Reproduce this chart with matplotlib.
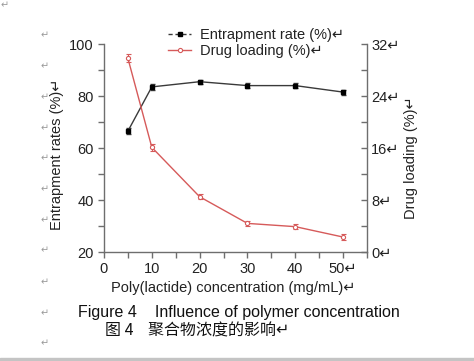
import matplotlib.pyplot as plt
from matplotlib.lines import Line2D
from matplotlib.patches import Rectangle
from matplotlib.ticker import MultipleLocator, FixedLocator, FixedFormatter

plt.rcParams['font.family'] = ['Liberation Sans', 'DejaVu Sans', 'Noto Sans CJK SC']

# data
conc = [5, 10, 20, 30, 40, 50]
entrap = [66.5, 83.5, 85.5, 84, 84, 81.5]
entrap_err = [1.3, 1.0, 0.8, 1.0, 1.0, 1.0]
loading = [29.8, 16.1, 8.5, 4.4, 3.9, 2.3]
loading_err = [0.6, 0.5, 0.4, 0.4, 0.4, 0.4]

x_ticks = [0, 10, 20, 30, 40, 50]
x_labels = ['0', '10', '20', '30', '40', '50\u21b5']
left_ticks = [20, 40, 60, 80, 100]
right_ticks = [0, 8, 16, 24, 32]
right_labels = ['0\u21b5', '8\u21b5', '16\u21b5', '24\u21b5', '32\u21b5']

axis_col = '#6e6e6e'
red = '#d65a5a'
dark = '#3a3a3a'
mark_col = '#9a9a9a'

fig = plt.figure(figsize=(4.74, 3.61), dpi=100)
ax = fig.add_axes([104 / 474, 1 - 252 / 361, 263 / 474, 208 / 361])
ax2 = ax.twinx()

ax.errorbar(conc, entrap, yerr=entrap_err, color=dark, lw=1.0,
            marker='s', ms=3, mfc='black', mec='black', capsize=1.8,
            elinewidth=0.8, zorder=3)
ax2.errorbar(conc, loading, yerr=loading_err, color=red, lw=1.0,
             marker='o', ms=3, mfc='white', mec=red, mew=0.8, capsize=1.8,
             elinewidth=0.8, zorder=3)

ax.set_xlim(0, 55)
ax.set_ylim(20, 100)
ax2.set_ylim(0, 32)

ax.xaxis.set_major_locator(FixedLocator(x_ticks))
ax.xaxis.set_major_formatter(FixedFormatter(x_labels))
ax.xaxis.set_minor_locator(MultipleLocator(5))
ax.yaxis.set_major_locator(FixedLocator(left_ticks))
ax.yaxis.set_minor_locator(MultipleLocator(10))
ax2.yaxis.set_major_locator(FixedLocator(right_ticks))
ax2.yaxis.set_major_formatter(FixedFormatter(right_labels))
ax2.yaxis.set_minor_locator(MultipleLocator(4))

for a in (ax, ax2):
    a.spines['top'].set_visible(False)
    for s in a.spines.values():
        s.set_color(axis_col)
        s.set_linewidth(1.0)
ax.spines['right'].set_visible(False)
ax2.spines['left'].set_visible(False)
ax2.spines['bottom'].set_visible(False)

ax.tick_params(axis='both', which='both', direction='out', color=axis_col,
               labelsize=10.5, length=4, width=1, labelcolor='#222222')
ax.tick_params(axis='x', pad=3)
ax2.tick_params(axis='y', which='both', direction='in', color=axis_col,
                labelsize=10.5, length=4, width=1, pad=3, labelcolor='#222222')

handles = [
    Line2D([], [], color=dark, lw=1.0, ls=(0, (3, 2)), marker='s', ms=3,
           mfc='black', mec='black'),
    Line2D([], [], color=red, lw=1.0, marker='o', ms=3, mfc='white',
           mec=red, mew=0.8),
]
labels = ['Entrapment rate (%)\u21b5', 'Drug loading (%)\u21b5']
fig.legend(handles, labels, loc='upper left', bbox_to_anchor=(162 / 474, 1 - 22 / 361),
           frameon=False, fontsize=10.5, handlelength=1.6, handletextpad=0.6,
           labelspacing=0.15, borderaxespad=0, labelcolor='#222222')

fig.text(57 / 474, 1 - 154 / 361, 'Entrapment rates (%)\u21b5', rotation=90,
         ha='center', va='center', fontsize=10.5, color='#222222')
fig.text(411 / 474, 1 - 158 / 361, 'Drug loading (%)\u21b5', rotation=90,
         ha='center', va='center', fontsize=10.5, color='#222222')
fig.text(233 / 474, 1 - 288 / 361, 'Poly(lactide) concentration (mg/mL)\u21b5',
         ha='center', va='center', fontsize=10.5, color='#222222')
fig.text(78 / 474, 1 - 313 / 361, 'Figure 4    Influence of polymer concentration',
         ha='left', va='center', fontsize=11.5, color='#111111')
fig.text(105 / 474, 1 - 331 / 361, '\u56fe 4    \u805a\u5408\u7269\u6d53\u5ea6\u7684\u5f71\u54cd\u21b5',
         ha='left', va='center', fontsize=11.5, color='#111111',
         family=['Noto Sans CJK SC', 'DejaVu Sans'])

# word paragraph marks on the left margin
for y in [5, 35, 66, 97, 128, 158, 189, 220, 250, 282, 313, 343]:
    xm = 5 if y == 5 else 45
    fig.text(xm / 474, 1 - y / 361, '\u21b5', color=mark_col, fontsize=7,
             ha='center', va='center')

# grey page edge at the bottom
fig.patches.append(Rectangle((0, 0), 1, 3 / 361, transform=fig.transFigure,
                             color='#c4c4c4', zorder=0))

fig.savefig('out.png', dpi=100)
